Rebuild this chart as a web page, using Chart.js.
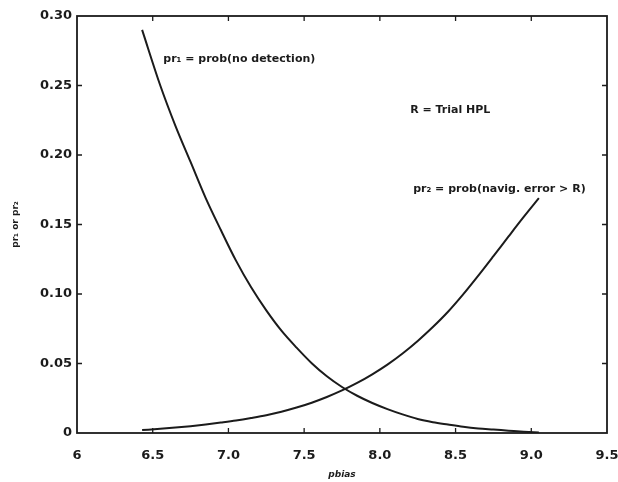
<!DOCTYPE html>
<html>
<head>
<meta charset="utf-8">
<title>pr1 / pr2 vs pbias</title>
<script src="https://cdn.jsdelivr.net/npm/chart.js@4.4.1/dist/chart.umd.min.js"></script>
<style>
  html, body { margin: 0; padding: 0; background: #fff; }
  #wrap { width: 618px; height: 482px; }
</style>
</head>
<body>
<div id="wrap"><canvas id="chart"></canvas></div>
<script>
// bias values along the x axis
const pbias = [6.43, 6.55, 6.65, 6.75, 6.85, 6.95, 7.05, 7.15, 7.25, 7.35, 7.45, 7.55, 7.65, 7.75,
               7.85, 7.95, 8.05, 8.15, 8.25, 8.35, 8.45, 8.55, 8.65, 8.75, 8.85, 8.95, 9.05];

// pr1 = prob(no detection)
const pr1 = [0.290, 0.250, 0.221, 0.195, 0.169, 0.146, 0.124, 0.1048, 0.0882, 0.0736, 0.0614, 0.0502, 0.0408, 0.0331,
             0.0268, 0.0216, 0.0172, 0.0134, 0.0101, 0.0078, 0.0061, 0.0045, 0.0033, 0.0025, 0.0017, 0.0009, 0.0003];

// pr2 = prob(navig. error > R)
const pr2 = [0.0021, 0.0030, 0.0039, 0.0049, 0.0061, 0.0075, 0.0090, 0.0108, 0.0128, 0.0153, 0.0183, 0.0218, 0.0259, 0.0306,
             0.0360, 0.0422, 0.0492, 0.0572, 0.0662, 0.0762, 0.0872, 0.0997, 0.1132, 0.1272, 0.1414, 0.1554, 0.1689];

const xTickLabels = ['6', '6.5', '7.0', '7.5', '8.0', '8.5', '9.0', '9.5'];
const yTickLabels = ['0', '0.05', '0.10', '0.15', '0.20', '0.25', '0.30'];

// text notes placed in data coordinates (left edge, vertical middle)
const notes = [
  { text: 'pr\u2081 = prob(no detection)', x: 6.57, y: 0.269 },
  { text: 'R = Trial HPL', x: 8.2, y: 0.2325 },
  { text: 'pr\u2082 = prob(navig. error > R)', x: 8.22, y: 0.1755 }
];

const ink = '#1b1b1b';
const font = '"DejaVu Sans", sans-serif';

const toPoints = ys => pbias.map((x, i) => ({ x, y: ys[i] }));

// box outline, inward tick marks on all four sides, and the text notes
const framePlugin = {
  id: 'frame',
  afterDraw(chart) {
    const { ctx, chartArea: a, scales: { x, y } } = chart;
    ctx.save();
    ctx.strokeStyle = ink;
    ctx.lineWidth = 1.8;
    ctx.strokeRect(a.left, a.top, a.right - a.left, a.bottom - a.top);

    ctx.lineWidth = 1.3;
    ctx.beginPath();
    x.ticks.forEach(t => {
      const px = x.getPixelForValue(t.value);
      if (px <= a.left + 1 || px >= a.right - 1) return;
      ctx.moveTo(px, a.bottom); ctx.lineTo(px, a.bottom - 5);
      ctx.moveTo(px, a.top); ctx.lineTo(px, a.top + 5);
    });
    y.ticks.forEach(t => {
      const py = y.getPixelForValue(t.value);
      if (py <= a.top + 1 || py >= a.bottom - 1) return;
      ctx.moveTo(a.left, py); ctx.lineTo(a.left + 5, py);
      ctx.moveTo(a.right, py); ctx.lineTo(a.right - 5, py);
    });
    ctx.stroke();

    ctx.fillStyle = ink;
    ctx.font = 'bold 11px ' + font;
    ctx.textAlign = 'left';
    ctx.textBaseline = 'middle';
    notes.forEach(n => {
      ctx.fillText(n.text, x.getPixelForValue(n.x), y.getPixelForValue(n.y));
    });
    ctx.restore();
  }
};

const lineStyle = {
  borderColor: ink,
  borderWidth: 2,
  pointRadius: 0,
  fill: false,
  cubicInterpolationMode: 'monotone'
};

new Chart(document.getElementById('chart').getContext('2d'), {
  type: 'line',
  data: {
    datasets: [
      { label: 'pr1', data: toPoints(pr1), ...lineStyle },
      { label: 'pr2', data: toPoints(pr2), ...lineStyle }
    ]
  },
  options: {
    responsive: true,
    maintainAspectRatio: false,
    animation: false,
    devicePixelRatio: 1,
    layout: { padding: { top: 16, right: 11, left: 0, bottom: 0 } },
    plugins: {
      legend: { display: false },
      tooltip: { enabled: false }
    },
    scales: {
      x: {
        type: 'linear',
        min: 6,
        max: 9.5,
        afterFit: s => { s.height = 49; s.paddingLeft = 0; s.paddingRight = 0; },
        afterBuildTicks: s => { s.ticks = xTickLabels.map(v => ({ value: parseFloat(v) })); },
        grid: { display: false, drawTicks: false },
        border: { display: false },
        ticks: {
          padding: 15,
          color: ink,
          font: { family: font, size: 13, weight: 'bold' },
          maxRotation: 0,
          callback: (v, i) => xTickLabels[i]
        },
        title: {
          display: true,
          text: 'pbias',
          color: ink,
          font: { family: font, size: 9, weight: 'bold', style: 'italic' },
          padding: { top: 0, bottom: 2 }
        }
      },
      y: {
        min: 0,
        max: 0.3,
        afterFit: s => { s.width = 77; s.paddingTop = 0; s.paddingBottom = 0; },
        afterBuildTicks: s => { s.ticks = yTickLabels.map(v => ({ value: parseFloat(v) })); },
        grid: { display: false, drawTicks: false },
        border: { display: false },
        ticks: {
          padding: 5,
          color: ink,
          font: { family: font, size: 13, weight: 'bold' },
          callback: (v, i) => yTickLabels[i]
        },
        title: {
          display: true,
          text: 'pr\u2081 or pr\u2082',
          color: ink,
          font: { family: font, size: 9, weight: 'bold' },
          padding: { top: 10, bottom: 0 }
        }
      }
    }
  },
  plugins: [framePlugin]
});
</script>
</body>
</html>
